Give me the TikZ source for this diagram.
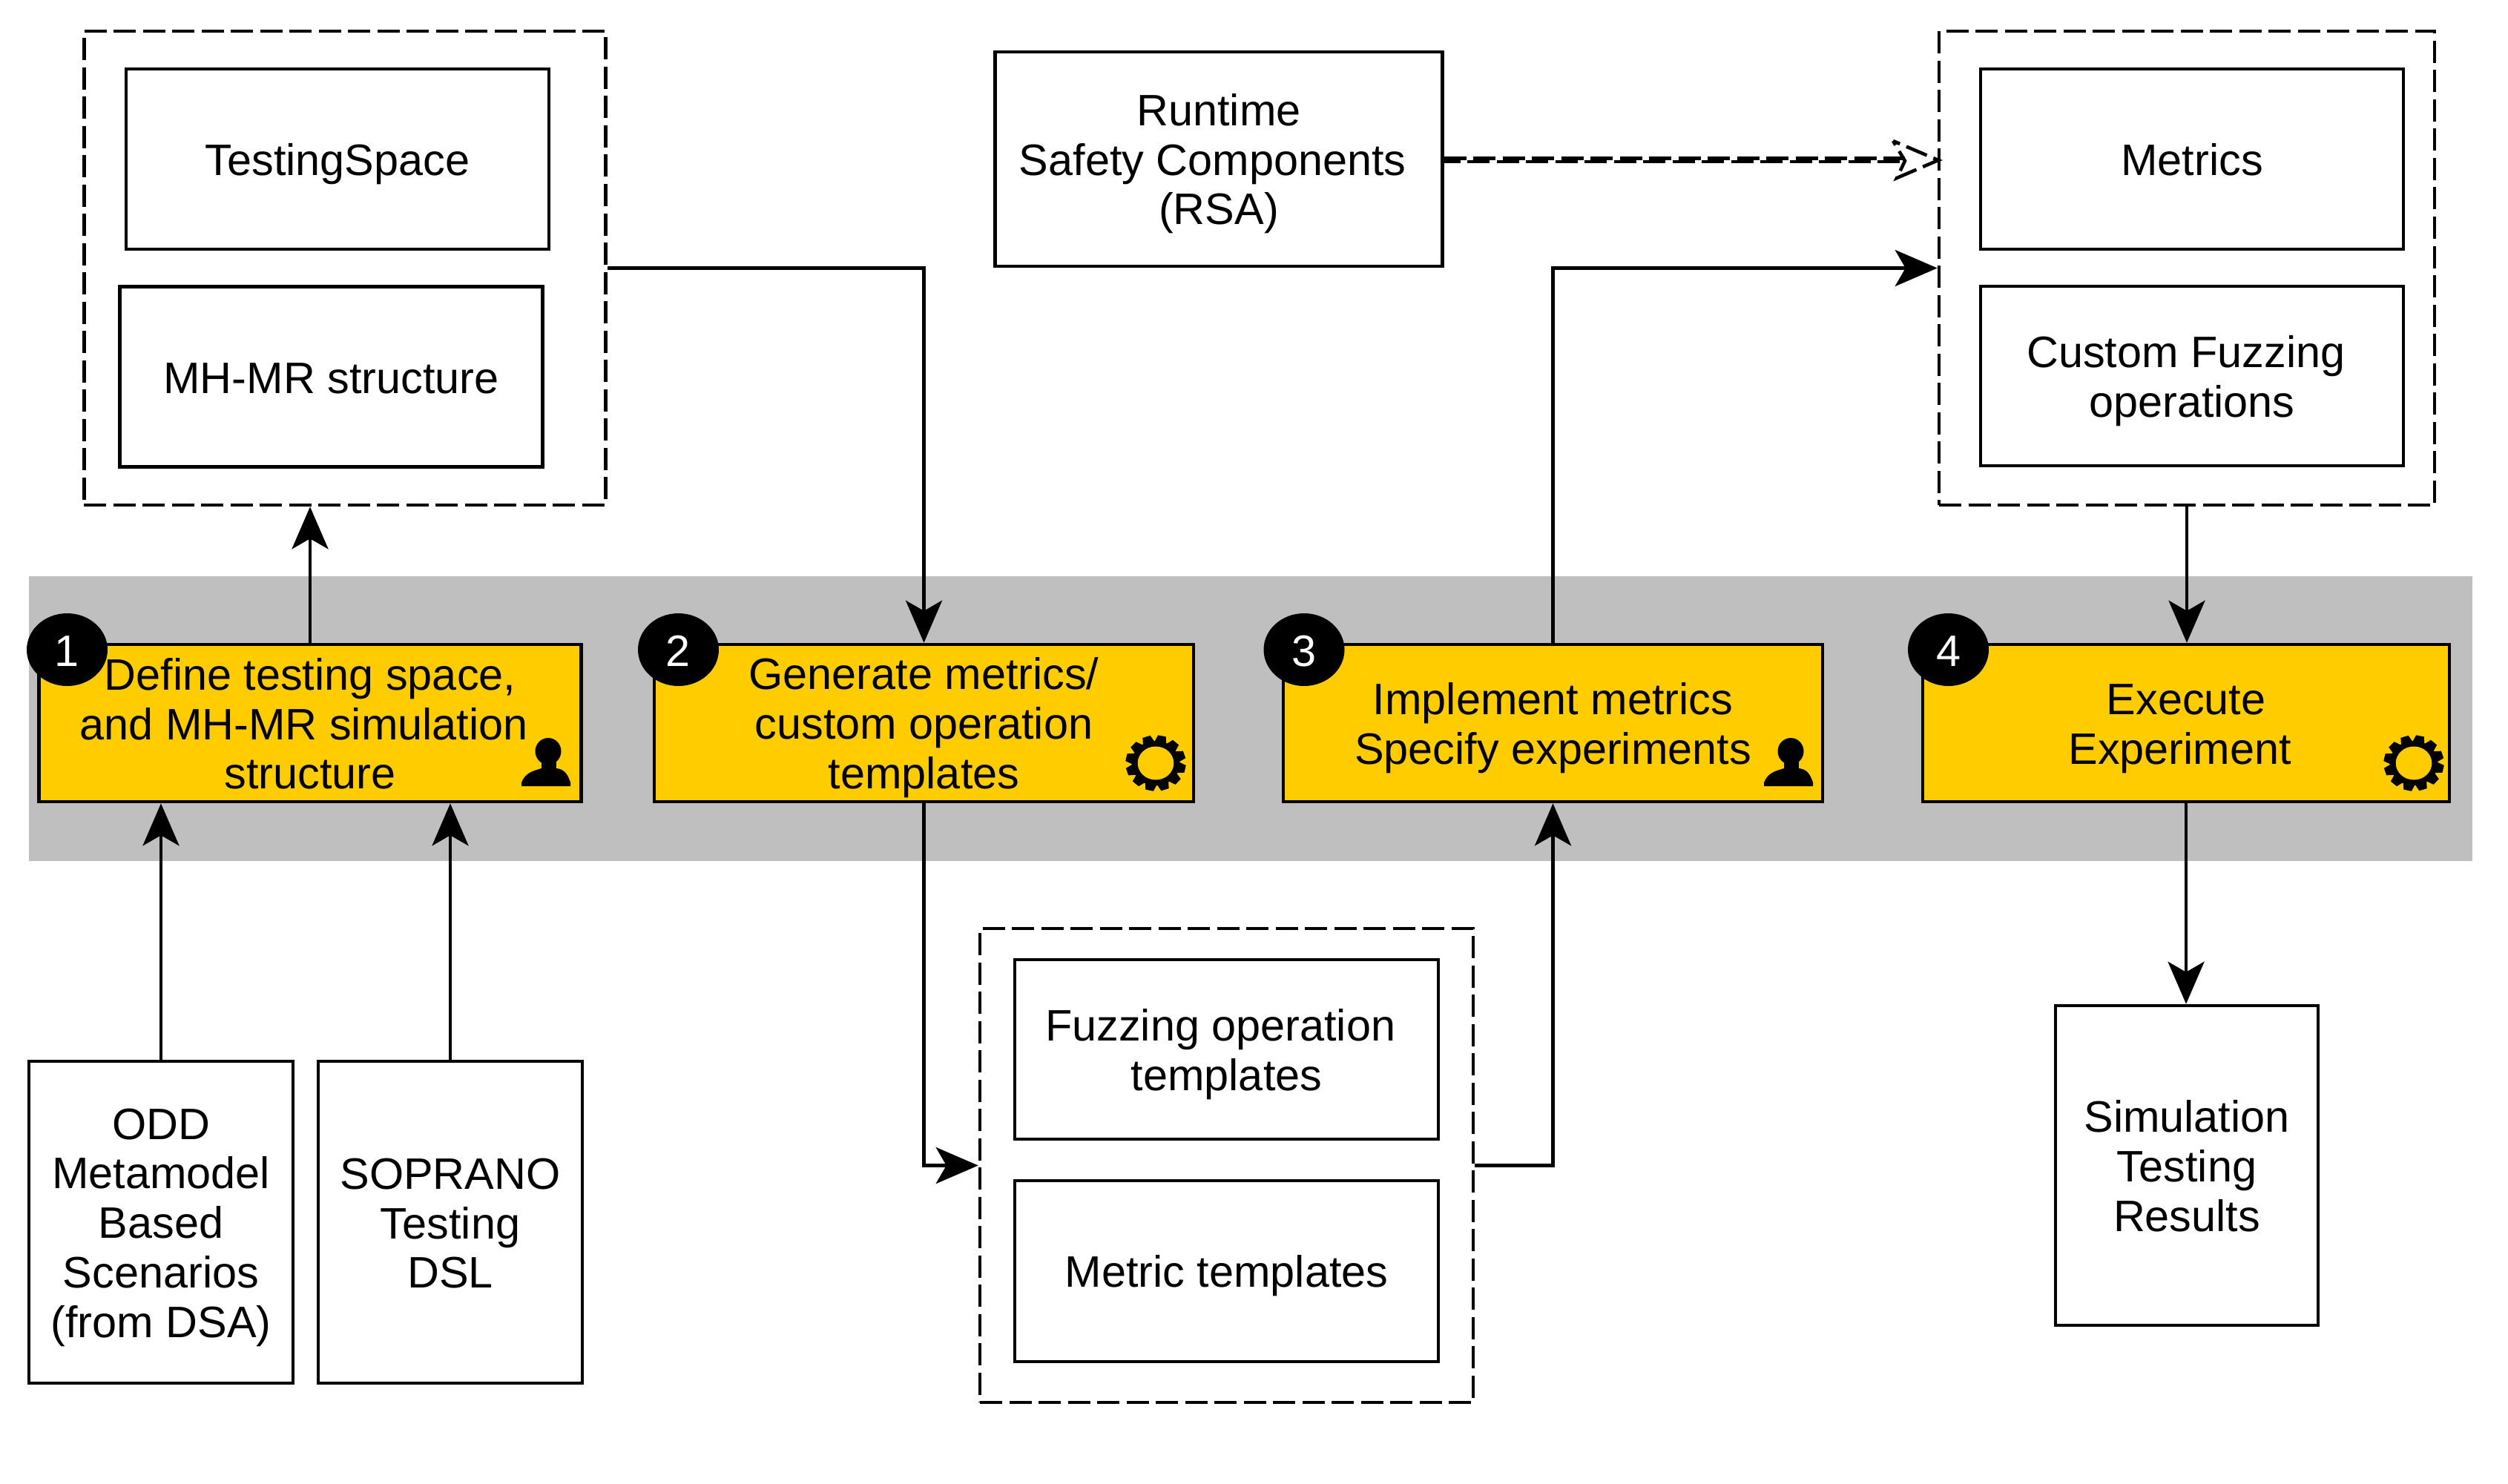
\documentclass[tikz,border=0pt]{standalone}
\usepackage{fontspec}
\setmainfont{Liberation Sans}
\usetikzlibrary{arrows.meta,shapes.geometric}
\definecolor{stepyellow}{HTML}{FFCC00}
\definecolor{bandgrey}{HTML}{BFBFBF}
\newcommand{\trailsp}{\rule{.278em}{0pt}}
\newcommand{\topst}{\rule{0pt}{15.8pt}}
\tikzset{
  every node/.style={font=\fontsize{16.9}{19}\selectfont, align=center, line width=1.3pt,
    execute at begin node=\rule{0pt}{15.8pt},
    execute at end node=\rule[-3.2pt]{0pt}{3.2pt}},
  plainbox/.style={draw, rectangle, minimum width=5.70cm, minimum height=2.43cm, inner sep=0pt},
  dashbox/.style={draw, rectangle, dash pattern=on .3cm off .095cm, minimum height=6.39cm, inner sep=0pt},
  stepbox/.style={draw, rectangle, fill=stepyellow, minimum height=2.12cm, inner sep=0pt},
  stepnum/.style={ellipse, fill=black, text=white, minimum width=1.09cm, minimum height=.98cm, inner sep=0pt},
  conn/.style={line width=1.3pt, -{Stealth[length=.57cm, width=.49cm, inset=.14cm]}},
  dashconn/.style={line width=1.3pt, dash pattern=on .3cm off .095cm},
  personicon/.pic={
    \fill (.03,.47) ellipse (.175 and .18);
    \fill (-.06,.15) rectangle (.14,.35);
    \fill (-.33,0) -- (-.33,.05) .. controls (-.28,.17) and (-.2,.2) .. (-.06,.24)
      -- (.14,.24) .. controls (.24,.23) and (.29,.17) .. (.33,.05) -- (.33,0) -- cycle;
  },
  gearicon/.pic={
    \begin{scope}[xscale=1.08]
    \fill (0,0) circle (.30);
    \foreach \a in {0,30,...,330}
      \fill[rotate=\a+18] (.28,-.075) -- (.375,-.05) -- (.375,.05) -- (.28,.075) -- cycle;
    \fill[stepyellow] (0,0) circle (.225);
    \end{scope}
  }
}
\begin{document}
\begin{tikzpicture}
\useasboundingbox (0,0) rectangle (33.81,-20);

% La banda gris del fondo
\node[fill=bandgrey, minimum width=32.94cm, minimum height=3.84cm, inner sep=0pt] (band) at (16.86,-9.69) {};

% Cajas de arriba
\node[dashbox, minimum width=7.03cm] (outA) at (4.648,-3.615) {};
\node[plainbox] (space) at (4.55,-2.145) {TestingSpace};
\node[plainbox] (struct) at (4.465,-5.08) {MH-MR structure};
\node[draw, rectangle, minimum width=6.03cm, minimum height=2.89cm, inner sep=0pt] (rsa) at (16.43,-2.145) {\topst Runtime\\Safety Components\trailsp\\(RSA)};
\node[dashbox, minimum width=6.68cm] (outB) at (29.48,-3.615) {};
\node[plainbox] (metrics) at (29.55,-2.145) {Metrics};
\node[plainbox, minimum height=2.42cm] (custom) at (29.55,-5.07) {\topst Custom Fuzzing\trailsp\\operations};

% Los cuatro pasos
\node[stepbox, minimum width=7.31cm] (proc1) at (4.18,-9.75) {\topst Define testing space,\\and MH-MR simulation\trailsp\\structure};
\node[stepbox, minimum width=7.27cm] (proc2) at (12.455,-9.75) {\topst Generate metrics/\\custom operation\\templates};
\node[stepbox, minimum width=7.27cm] (proc3) at (20.935,-9.75) {\topst Implement metrics\\Specify experiments};
\node[stepbox, minimum width=7.10cm] (proc4) at (29.47,-9.75) {\topst Execute\\Experiment\trailsp};

\node[stepnum] (num1) at (.905,-8.76) {1};
\node[stepnum] (num2) at (9.145,-8.76) {2};
\node[stepnum] (num3) at (17.58,-8.76) {3};
\node[stepnum] (num4) at (26.265,-8.76) {4};

% Iconos
\pic at (7.36,-10.6) {personicon};
\pic at (24.11,-10.6) {personicon};
\pic at (15.58,-10.29) {gearicon};
\pic at (32.54,-10.29) {gearicon};

% Cajas de abajo
\node[draw, rectangle, minimum width=3.56cm, minimum height=4.34cm, inner sep=0pt] (odd) at (2.17,-16.48) {\topst ODD\\Metamodel\\Based\\Scenarios\\(from DSA)};
\node[draw, rectangle, minimum width=3.56cm, minimum height=4.34cm, inner sep=0pt] (soprano) at (6.07,-16.48) {\topst SOPRANO\\Testing\\DSL};
\node[dashbox, minimum width=6.65cm] (outC) at (16.535,-15.715) {};
\node[plainbox, minimum width=5.71cm, minimum height=2.42cm] (fuzz) at (16.535,-14.15) {\topst Fuzzing operation\trailsp\\templates};
\node[plainbox, minimum width=5.71cm, minimum height=2.44cm] (metrict) at (16.535,-17.14) {Metric templates};
\node[draw, rectangle, minimum width=3.54cm, minimum height=4.31cm, inner sep=0pt] (results) at (29.48,-15.715) {\topst Simulation\\Testing\\Results};

% Flechas
\draw[conn] (proc1.north) -- (proc1.north |- outA.south);
\draw[conn] (outA.east) -| (proc2.north);
\draw[conn] (proc2.south) |- (outC.west);
\draw[conn] (outC.east) -| (proc3.south);
\draw[conn] (proc3.north) |- (outB.west);
\draw[conn] (outB.south) -- (outB.south |- proc4.north);
\draw[conn] (proc4.south) -- (proc4.south |- results.north);
\draw[conn] (odd.north) -- (odd.north |- proc1.south);
\draw[conn] (soprano.north) -- (soprano.north |- proc1.south);

% La flecha discontinua de RSA, dos veces y con la punta abierta
\coordinate (dtip) at (26.13,-2.16);
\coordinate (dnotch) at (25.68,-2.17);
\coordinate (dbarbA) at (25.52,-1.9);
\coordinate (dbarbB) at (25.57,-2.4);
\draw[dashconn] ([yshift=.01cm]rsa.east) -- ([yshift=.01cm]rsa.east -| dnotch);
\draw[dashconn, dash phase=.08cm] ([yshift=-.035cm]rsa.east) -- ([yshift=-.035cm]rsa.east -| dnotch);
\draw[dashconn, dash phase=.2cm] (dbarbA) -- (dtip) -- (dbarbB) -- (dnotch) -- cycle;
\end{tikzpicture}
\end{document}
